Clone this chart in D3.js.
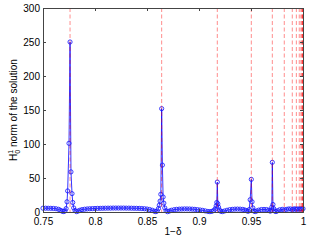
<!DOCTYPE html>
<html>
<head>
<meta charset="utf-8">
<script src="https://cdn.jsdelivr.net/npm/d3@7"></script>
<style>
  body { margin: 0; background: #fff; }
  svg { display: block; font-family: "Liberation Sans", Arial, sans-serif; }
</style>
</head>
<body>
<script>
// 1 - delta (sample positions)
const oneMinusDelta = [
  0.7500, 0.7525, 0.7550, 0.7575, 0.7600, 0.7625, 0.7650, 0.7670, 0.7685, 0.7700,
  0.7712, 0.7722, 0.7731, 0.7737, 0.7750, 0.7760, 0.7769, 0.7779, 0.7786, 0.7795,
  0.7808, 0.7822, 0.7838, 0.7855, 0.7875, 0.7900, 0.7925, 0.7950, 0.7975, 0.8000,
  0.8025, 0.8050, 0.8075, 0.8100, 0.8125, 0.8150, 0.8175, 0.8200, 0.8225, 0.8250,
  0.8275, 0.8300, 0.8325, 0.8350, 0.8375, 0.8400, 0.8425, 0.8450, 0.8475, 0.8500,
  0.8525, 0.8550, 0.8570, 0.8585, 0.8598, 0.8610, 0.8618, 0.8626, 0.8633, 0.8641,
  0.8648, 0.8655, 0.8662, 0.8671, 0.8683, 0.8698, 0.8715, 0.8735, 0.8760, 0.8785,
  0.8810, 0.8835, 0.8860, 0.8885, 0.8910, 0.8935, 0.8960, 0.8985, 0.9010, 0.9035,
  0.9060, 0.9085, 0.9105, 0.9125, 0.9142, 0.9155, 0.9165, 0.9171, 0.9176, 0.9181,
  0.9188, 0.9197, 0.9210, 0.9225, 0.9245, 0.9270, 0.9295, 0.9320, 0.9345, 0.9370,
  0.9395, 0.9420, 0.9440, 0.9458, 0.9472, 0.9482, 0.9492, 0.9503, 0.9510, 0.9518,
  0.9528, 0.9540, 0.9555, 0.9575, 0.9600, 0.9625, 0.9650, 0.9670, 0.9685, 0.9695,
  0.9700, 0.9705, 0.9711, 0.9718, 0.9728, 0.9740, 0.9755, 0.9775, 0.9800, 0.9820,
  0.9840, 0.9860, 0.9880, 0.9897, 0.9910, 0.9925, 0.9936, 0.9950, 0.9964, 0.9975,
  0.9988, 1.0000
];

// H^1_0 norm of the solution at each sample
const h1Norm = [
  5.6, 5.6, 5.5, 5.4, 5.2, 4.8, 4.0, 2.4, 1.0, 0.6,
  1.8, 5, 15, 31, 101, 250, 59, 27, 14, 6,
  2.2, 0.6, 1.4, 2.6, 3.5, 4.1, 4.5, 4.8, 5.0, 5.2,
  5.3, 5.4, 5.5, 5.6, 5.7, 5.7, 5.8, 5.8, 5.8, 5.8,
  5.8, 5.7, 5.7, 5.6, 5.5, 5.4, 5.3, 5.1, 4.8, 4.4,
  3.7, 2.6, 1.2, 0.5, 1.6, 5, 10, 16, 26, 152,
  69, 22, 13, 6, 1.8, 0.5, 1.4, 2.6, 3.4, 3.9,
  4.2, 4.4, 4.5, 4.5, 4.4, 4.2, 3.9, 3.4, 3.0, 2.4,
  1.6, 0.8, 0.5, 1.0, 2.2, 4.5, 9, 14, 44, 12,
  7, 3, 1.0, 0.6, 1.5, 2.6, 3.4, 3.9, 4.2, 4.3,
  4.2, 3.8, 3.0, 2.0, 1.0, 3.5, 18, 48, 15, 6,
  1.5, 0.6, 1.5, 2.8, 3.6, 3.8, 3.6, 2.6, 1.2, 3,
  7, 73, 11, 5, 1.5, 0.6, 1.8, 3.2, 3.9, 3.0,
  3.8, 4.4, 4.5, 3.5, 4.4, 4.6, 3.8, 4.6, 4.0, 4.7,
  4.3, 4.8
];

// resonance positions (red dashed lines)
const resonances = [0.776, 0.8641, 0.9176, 0.9503, 0.9705, 0.982, 0.9897, 0.9936,
  0.9964, 0.998, 0.9989, 0.9994, 0.9997, 0.9999];

const xTicks = [0.75, 0.8, 0.85, 0.9, 0.95, 1];
const xTickLabels = ['0.75', '0.8', '0.85', '0.9', '0.95', '1'];
const yTicks = [0, 50, 100, 150, 200, 250, 300];

const points = oneMinusDelta.map((d, i) => ({x: d, y: h1Norm[i]}));

const width = 309, height = 240;
const margin = {top: 8, right: 6, bottom: 28, left: 43};

const svg = d3.select('body').append('svg')
  .attr('width', width)
  .attr('height', height);

const xScale = d3.scaleLinear()
  .domain([0.75, 1])
  .range([margin.left, width - margin.right]);

const yScale = d3.scaleLinear()
  .domain([0, 300])
  .range([height - margin.bottom, margin.top]);

const plotW = width - margin.right - margin.left;
const plotH = height - margin.bottom - margin.top;

// data line + markers
const line = d3.line().x(d => xScale(d.x)).y(d => yScale(d.y));

svg.append('path')
  .datum(points)
  .attr('d', line)
  .attr('fill', 'none')
  .attr('stroke', '#0000ff')
  .attr('stroke-width', 0.8);

svg.append('g')
  .selectAll('circle')
  .data(points)
  .join('circle')
  .attr('cx', d => xScale(d.x))
  .attr('cy', d => yScale(d.y))
  .attr('r', 2.1)
  .attr('fill', 'none')
  .attr('stroke', '#1a1aff')
  .attr('stroke-width', 0.85);

// red dashed resonance lines
svg.append('g')
  .selectAll('line')
  .data(resonances)
  .join('line')
  .attr('x1', d => xScale(d))
  .attr('x2', d => xScale(d))
  .attr('y1', yScale(300))
  .attr('y2', yScale(0))
  .attr('stroke', '#ff0000')
  .attr('stroke-opacity', 0.45)
  .attr('stroke-width', 1)
  .attr('stroke-dasharray', '4,2.5');

// AXES
const xAxis = d3.axisBottom(xScale).tickValues(xTicks)
  .tickSize(-3).tickPadding(6)
  .tickFormat((d, i) => xTickLabels[i]);
const xAxisTop = d3.axisTop(xScale).tickValues(xTicks).tickSize(-3).tickFormat('');
const yAxis = d3.axisLeft(yScale).tickValues(yTicks).tickSize(-3).tickPadding(3);
const yAxisRight = d3.axisRight(yScale).tickValues(yTicks).tickSize(-3).tickFormat('');

function styleAxis(g) {
  g.select('.domain').attr('stroke', '#444');
  g.selectAll('.tick line').attr('stroke', '#444');
  g.selectAll('text').attr('font-size', 10).attr('fill', '#000')
    .attr('font-family', '"Liberation Sans", Arial, sans-serif');
}

svg.append('g')
  .attr('transform', `translate(0,${yScale(0)})`)
  .call(xAxis).call(styleAxis);
svg.append('g')
  .attr('transform', `translate(0,${yScale(300)})`)
  .call(xAxisTop).call(styleAxis);
svg.append('g')
  .attr('transform', `translate(${xScale(0.75)},0)`)
  .call(yAxis).call(styleAxis);
svg.append('g')
  .attr('transform', `translate(${xScale(1)},0)`)
  .call(yAxisRight).call(styleAxis);

// x label
svg.append('text')
  .attr('x', margin.left + plotW / 2)
  .attr('y', 235)
  .attr('text-anchor', 'middle')
  .attr('font-size', 10)
  .text('1\u2212\u03b4');

// y label  H_0^1 norm of the solution
const yLab = svg.append('text')
  .attr('transform', `translate(17,${margin.top + plotH / 2}) rotate(-90)`)
  .attr('text-anchor', 'middle')
  .attr('font-size', 10);
yLab.append('tspan').text('H');
yLab.append('tspan').attr('font-size', 7).attr('dy', 2.5).text('0');
yLab.append('tspan').attr('font-size', 7).attr('dx', -3.9).attr('dy', -7).text('1');
yLab.append('tspan').attr('dy', 4.5).text(' norm of the solution');
</script>
</body>
</html>
